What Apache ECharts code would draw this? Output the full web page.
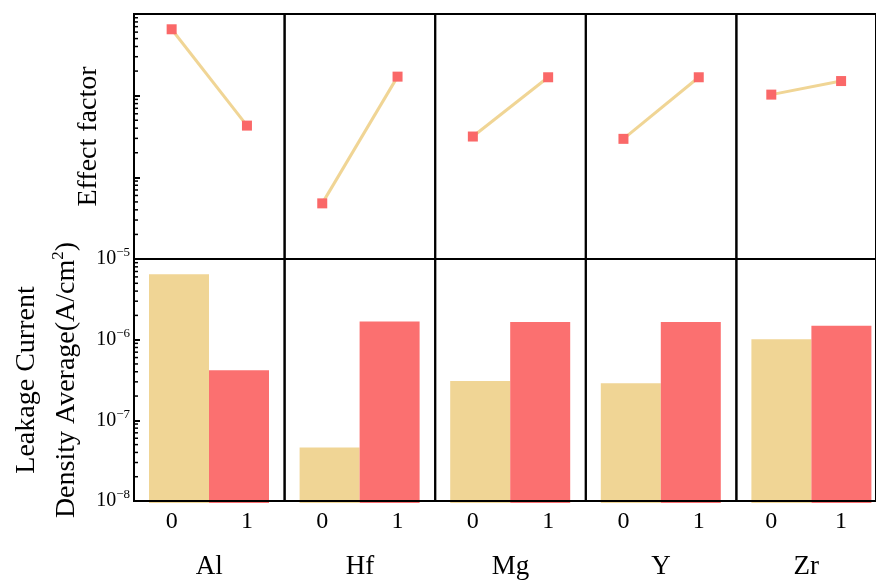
<!DOCTYPE html>
<html><head><meta charset="utf-8">
<script src="https://cdn.jsdelivr.net/npm/echarts@6/dist/echarts.min.js"></script>
<style>html,body{margin:0;padding:0;background:#fff}#c{width:876px;height:581px}</style>
</head><body><div id="c"></div>
<script>
// ---- data ----
const elements = ['Al', 'Hf', 'Mg', 'Y', 'Zr'];
const levels = ['0', '1'];
const leakage0 = [6.5e-6, 4.8e-8, 3.16e-7, 2.96e-7, 1.03e-6];
const leakage1 = [4.3e-7, 1.71e-6, 1.68e-6, 1.68e-6, 1.51e-6];
const effect0 = [6.5e-6, 4.8e-8, 3.16e-7, 2.96e-7, 1.03e-6];
const effect1 = [4.3e-7, 1.71e-6, 1.68e-6, 1.68e-6, 1.51e-6];
const yMin = 1e-8, yMax = 1e-5;
const minorTickValues = [];
for (let d = -8; d < -5; d++) for (let k = 2; k <= 9; k++) minorTickValues.push(+(k * Math.pow(10, d)).toPrecision(3));

// ---- style ----
const FONT = "'Liberation Serif','Times New Roman',serif";
const C0 = '#F0D595', C1 = '#FB7070', MARK = '#FA6868';
const left0 = 134, colW = 150.6, topT = 14, hT = 245, topB = 259, hB = 244;

const grids = [], xAxes = [], yAxes = [], series = [];
const tickAxisIdx = [];
function supLabel(v) {
  const e = Math.round(Math.log10(v));
  return '{b|10}{s|' + (e < 0 ? '\u2212' + (-e) : e) + '}';
}
const labelRich = {
  b: { fontSize: 20, fontFamily: FONT, color: '#000', lineHeight: 22 },
  s: { fontSize: 13, fontFamily: FONT, color: '#000', lineHeight: 13, padding: [0, 0, 12, 0] }
};

elements.forEach((el, i) => {
  const L = left0 + colW * i;
  const gT = grids.length;
  grids.push({ left: L, top: topT, width: colW, height: hT, show: true, borderColor: '#000', borderWidth: 2, z: 5 });
  const gB = grids.length;
  grids.push({ left: L, top: topB, width: colW, height: hB, show: true, borderColor: '#000', borderWidth: 2, z: 5 });
  const gBar = grids.length;
  grids.push({ left: L + 15, top: topB, width: 120, height: hB, show: false });

  const xT = xAxes.length;
  xAxes.push({ type: 'category', gridIndex: gT, data: levels, boundaryGap: true,
    axisLine: { show: false }, axisTick: { show: false }, axisLabel: { show: false } });
  xAxes.push({ type: 'category', gridIndex: gB, data: levels, boundaryGap: true,
    axisLine: { show: false }, axisTick: { show: false },
    axisLabel: { interval: 0, fontSize: 24, fontFamily: FONT, color: '#000', margin: 9 },
    name: el, nameLocation: 'middle', nameGap: 52,
    nameTextStyle: { fontSize: 27, fontFamily: FONT, color: '#000' } });
  const xBar = xAxes.length;
  xAxes.push({ type: 'category', gridIndex: gBar, data: levels, show: false });

  const first = i === 0;
  function logAxis(g, extra) {
    return Object.assign({ type: 'log', logBase: 10, gridIndex: g, min: yMin, max: yMax, position: 'left',
      axisLine: { show: false }, splitLine: { show: false },
      axisTick: { show: first, inside: true, length: 6, lineStyle: { color: '#000', width: 2 } },
      axisLabel: { show: false } }, extra || {});
  }
  const yT = yAxes.length;
  if (first) tickAxisIdx.push(yT);
  yAxes.push(logAxis(gT, first ? { name: 'Effect factor', nameLocation: 'middle', nameGap: 31,
    nameTextStyle: { fontSize: 28, fontFamily: FONT, color: '#000' } } : {}));
  if (first) tickAxisIdx.push(yAxes.length);
  yAxes.push(logAxis(gB, first ? {
    axisLabel: { show: true, formatter: supLabel, rich: labelRich, margin: 4 },
    name: 'Leakage Current\nDensity Average(A/cm{sup|2})', nameLocation: 'middle', nameGap: 47,
    nameTextStyle: { fontSize: 28, fontFamily: FONT, color: '#000', lineHeight: 40,
      rich: { sup: { fontSize: 17, fontFamily: FONT, color: '#000', lineHeight: 17, padding: [0, 0, 16, 0] } } }
  } : {}));
  const yBar = yAxes.length;
  yAxes.push({ type: 'log', logBase: 10, gridIndex: gBar, min: yMin, max: yMax, startValue: yMin, show: false, splitLine: { show: false } });

  series.push({ type: 'line', xAxisIndex: xT, yAxisIndex: yT, data: [effect0[i], effect1[i]],
    symbol: 'rect', symbolSize: 10, lineStyle: { color: C0, width: 3 }, itemStyle: { color: MARK },
    z: 3, silent: true, animation: false });
  series.push({ type: 'bar', xAxisIndex: xBar, yAxisIndex: yBar, barCategoryGap: 0, animation: false,
    data: [{ value: leakage0[i], itemStyle: { color: C0 } }, { value: leakage1[i], itemStyle: { color: C1 } }], z: 2 });
});

const chart = echarts.init(document.getElementById('c'), null, { renderer: 'canvas' });
chart.setOption({ backgroundColor: '#fff', animation: false, grid: grids, xAxis: xAxes, yAxis: yAxes, series: series });

// minor log ticks on the left axes, positioned through the axes' own log scales
const minorEls = [];
tickAxisIdx.forEach(ax => {
  minorTickValues.forEach(v => {
    const y = chart.convertToPixel({ yAxisIndex: ax }, v);
    if (isFinite(y)) minorEls.push({ type: 'line', z: 100, silent: true,
      shape: { x1: left0, y1: y, x2: left0 + 4, y2: y }, style: { stroke: '#000', lineWidth: 1.5 } });
  });
});
chart.setOption({ graphic: minorEls });
</script></body></html>
